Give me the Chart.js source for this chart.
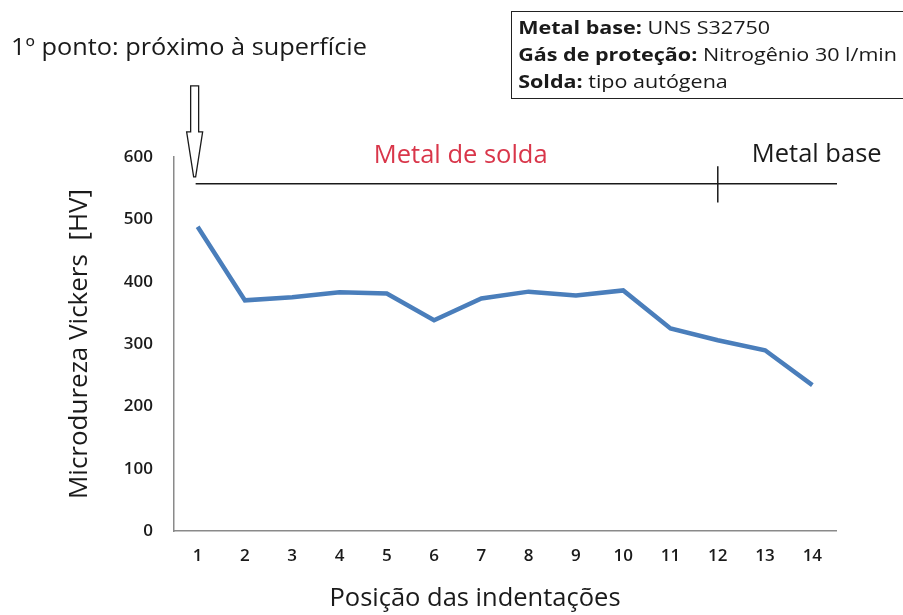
<!DOCTYPE html>
<html lang="pt-BR">
<head>
<meta charset="utf-8">
<title>Microdureza Vickers</title>
<script src="https://cdn.jsdelivr.net/npm/chart.js@4.4.0/dist/chart.umd.min.js"></script>
<style>
  html, body { margin: 0; padding: 0; background: #fff; overflow: hidden; }
  #wrap { position: relative; width: 903px; height: 615px; overflow: hidden; }
  #c { position: absolute; left: 0; top: 0; }
  .note {
    position: absolute; left: 11px; top: 30px;
    font-family: "Open Sans", sans-serif; font-size: 23px; color: #1a1a1a;
    white-space: nowrap; transform: scaleX(1.1); transform-origin: 0 0;
  }
  .info {
    position: absolute; left: 511px; top: 11px; width: 480px; height: 88px;
    border: 1.5px solid #222; box-sizing: border-box;
  }
  .info .txt {
    font-family: "Open Sans", sans-serif; font-size: 17.5px; color: #1a1a1a;
    line-height: 27px; padding: 2px 0 0 5px; white-space: nowrap;
    transform: scaleX(1.23); transform-origin: 0 0;
  }
  .info b { font-weight: 700; }
</style>
</head>
<body>
<div id="wrap">
  <canvas id="c" width="903" height="615"></canvas>
  <div class="note">1º ponto: próximo à superfície</div>
  <div class="info">
    <div class="txt">
      <div><b>Metal base:</b> UNS S32750</div>
      <div><b>Gás de proteção:</b> Nitrogênio 30 l/min</div>
      <div><b>Solda:</b> tipo autógena</div>
    </div>
  </div>
</div>
<script>
// Indentation positions along the weld cross-section
const positions = ['1', '2', '3', '4', '5', '6', '7', '8', '9', '10', '11', '12', '13', '14'];
// Vickers microhardness measured at each position [HV]
const hardness = [488, 370, 375, 383, 381, 338, 373, 384, 378, 386, 325, 306, 290, 234];
// Vertical axis ticks
const yTicks = [0, 100, 200, 300, 400, 500, 600];

// Zone annotations: weld metal spans from the first point up to the boundary at position 12
const zoneLineValue = 557;
const zoneBoundaryIndex = 11;
const zoneBoundarySpan = [527, 585];
const weldLabel = 'Metal de solda';
const baseLabel = 'Metal base';
const xTitle = 'Posição das indentações';

const FONT = '"Open Sans", sans-serif';

const zonePlugin = {
  id: 'zones',
  afterDatasetsDraw(chart) {
    const { ctx, chartArea } = chart;
    const xs = chart.scales.x, ys = chart.scales.y;
    const x0 = xs.getPixelForValue(0);
    const xb = xs.getPixelForValue(zoneBoundaryIndex);
    const yl = ys.getPixelForValue(zoneLineValue);
    ctx.save();
    // horizontal zone line
    ctx.strokeStyle = '#1a1a1a';
    ctx.lineWidth = 1.5;
    ctx.beginPath();
    ctx.moveTo(x0 - 2, yl);
    ctx.lineTo(chartArea.right + 1, yl);
    ctx.stroke();
    // boundary tick between weld metal and base metal
    ctx.beginPath();
    ctx.moveTo(xb, ys.getPixelForValue(zoneBoundarySpan[1]));
    ctx.lineTo(xb, ys.getPixelForValue(zoneBoundarySpan[0]));
    ctx.stroke();

    // hollow arrow pointing at the first indentation
    const tipY = yl - 7;
    const ax = x0 - 3;
    ctx.beginPath();
    ctx.moveTo(ax - 4, tipY - 91);
    ctx.lineTo(ax + 4, tipY - 91);
    ctx.lineTo(ax + 4, tipY - 45);
    ctx.lineTo(ax + 8, tipY - 45);
    ctx.lineTo(ax + 1, tipY);
    ctx.lineTo(ax - 1, tipY);
    ctx.lineTo(ax - 8, tipY - 45);
    ctx.lineTo(ax - 4, tipY - 45);
    ctx.closePath();
    ctx.fillStyle = '#fff';
    ctx.fill();
    ctx.lineWidth = 1.3;
    ctx.stroke();

    // zone labels
    ctx.font = '25.5px ' + FONT;
    ctx.textBaseline = 'alphabetic';
    ctx.fillStyle = '#d9364a';
    ctx.textAlign = 'center';
    ctx.fillText(weldLabel, (x0 + xb) / 2 + 3, yl - 21);
    ctx.fillStyle = '#1a1a1a';
    ctx.textAlign = 'left';
    ctx.fillText(baseLabel, xb + 34, yl - 22);

    // horizontal axis title
    ctx.font = '25.5px ' + FONT;
    ctx.textAlign = 'center';
    ctx.textBaseline = 'middle';
    ctx.fillStyle = '#1a1a1a';
    ctx.fillText(xTitle, chartArea.left + 301, 599);
    ctx.restore();
  }
};

new Chart(document.getElementById('c'), {
  type: 'line',
  data: {
    labels: positions,
    datasets: [{
      data: hardness,
      borderColor: '#4a7ebb',
      borderWidth: 4.5,
      pointRadius: 0,
      tension: 0,
      fill: false
    }]
  },
  options: {
    responsive: false,
    animation: false,
    events: [],
    layout: { padding: { left: 61, top: 157, right: 67, bottom: 0 } },
    plugins: { legend: { display: false }, tooltip: { enabled: false } },
    scales: {
      x: {
        type: 'category',
        offset: true,
        grid: { display: false, drawTicks: false },
        border: { display: true, color: '#8a8a8a', width: 1.5 },
        ticks: {
          color: '#1a1a1a', padding: 15,
          font: { family: FONT, size: 17, weight: '600' },
          maxRotation: 0
        },
        afterFit(scale) { scale.height = 84; }
      },
      y: {
        min: 0, max: 600,
        afterBuildTicks(scale) { scale.ticks = yTicks.map(v => ({ value: v })); },
        grid: { display: false, drawTicks: false },
        border: { display: true, color: '#8a8a8a', width: 1.5 },
        ticks: {
          color: '#1a1a1a', padding: 21,
          font: { family: FONT, size: 17, weight: '600' }
        },
        title: {
          display: true,
          text: 'Microdureza Vickers  [HV]',
          color: '#1a1a1a',
          font: { family: FONT, size: 26 },
          padding: { top: 3, bottom: 4 }
        },
        afterFit(scale) { scale.width = 113; }
      }
    }
  },
  plugins: [zonePlugin]
});
</script>
</body>
</html>
